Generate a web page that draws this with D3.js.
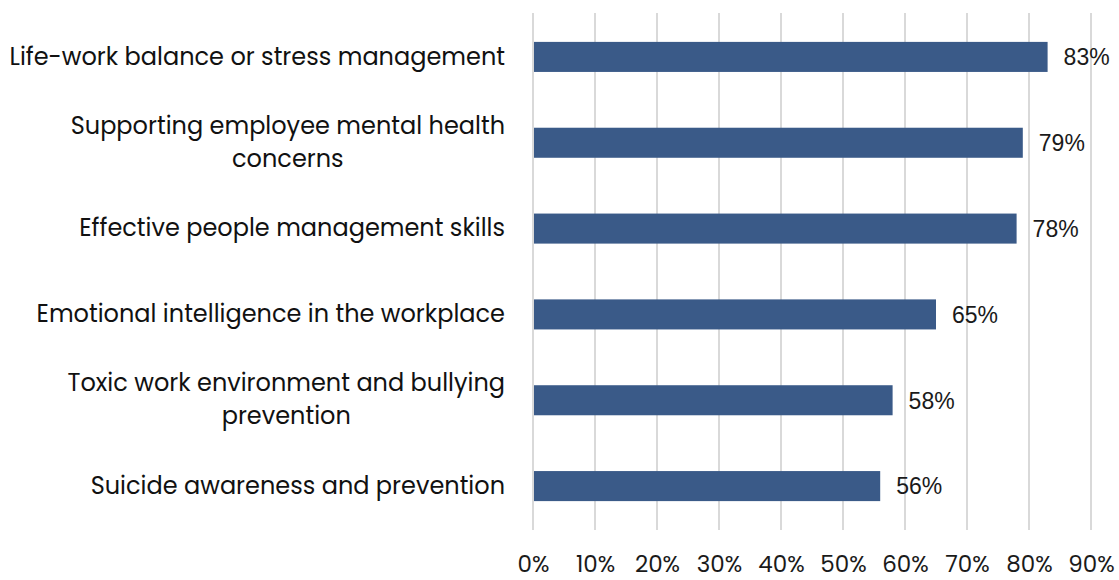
<!DOCTYPE html>
<html>
<head>
<meta charset="utf-8">
<script src="https://cdn.jsdelivr.net/npm/d3@7"></script>
<style>
  html, body { margin: 0; padding: 0; background: #ffffff; }
  svg { display: block; }
  text { font-family: "Poppins", "Noto Sans", "DejaVu Sans", sans-serif; }
</style>
</head>
<body>
<svg id="chart" width="1119" height="580"></svg>
<script>
// Training topics, each split into the lines it wraps onto
const categories = [
  ["Life-work balance or stress management"],
  ["Supporting employee mental health", "concerns"],
  ["Effective people management skills"],
  ["Emotional intelligence in the workplace"],
  ["Toxic work environment and bullying", "prevention"],
  ["Suicide awareness and prevention"]
];
const values = [83, 79, 78, 65, 58, 56];
const tickValues = [0, 10, 20, 30, 40, 50, 60, 70, 80, 90];

const svg = d3.select("#chart");
const margin = { left: 533, right: 28, top: 13, bottom: 50 };
const width = 1119, height = 580;
const fontMain = "\"Poppins\", \"Noto Sans\", \"DejaVu Sans\", sans-serif";

const keys = categories.map(c => c.join(" "));

const x = d3.scaleLinear()
  .domain([0, 90])
  .range([margin.left, width - margin.right]);

const y = d3.scaleBand()
  .domain(keys)
  .range([margin.top + 1, height - margin.bottom - 1])
  .paddingInner(0.65)
  .paddingOuter(0.325);

// vertical gridlines
svg.append("g")
  .selectAll("line")
  .data(tickValues)
  .join("line")
  .attr("x1", d => x(d)).attr("x2", d => x(d))
  .attr("y1", margin.top).attr("y2", height - margin.bottom)
  .attr("stroke", "#d9d9d9")
  .attr("stroke-width", 2);

// bars
svg.append("g")
  .selectAll("rect")
  .data(values)
  .join("rect")
  .attr("x", x(0) + 1)
  .attr("y", (d, i) => y(keys[i]))
  .attr("width", d => x(d) - x(0) - 1)
  .attr("height", y.bandwidth())
  .attr("fill", "#3a5a88");

// value labels
svg.append("g")
  .selectAll("text")
  .data(values)
  .join("text")
  .attr("x", d => x(d) + 16)
  .attr("y", (d, i) => y(keys[i]) + y.bandwidth() / 2)
  .attr("dy", "0.36em")
  .attr("font-size", 23)
  .attr("fill", "#1a1a1a")
  .style("font-family", "\"Liberation Sans\", Arial, sans-serif")
  .text(d => d + "%");

// category labels, wrapped lines centred on each other, block right-aligned
const labelRight = x(0) - 28;
const lineH = 33;
const lab = svg.append("g").attr("font-size", 24).attr("fill", "#111111");
categories.forEach((lines, i) => {
  const cy = y(keys[i]) + y.bandwidth() / 2;
  const t = lab.append("text");
  const spans = lines.map((ln, j) =>
    t.append("tspan")
      .attr("y", cy + (j - (lines.length - 1) / 2) * lineH - 1)
      .attr("dy", "0.36em")
      .text(ln));
  const widths = spans.map(s => s.node().getComputedTextLength());
  const maxW = d3.max(widths);
  spans.forEach(s => {
    s.attr("x", labelRight - maxW / 2).attr("text-anchor", "middle");
  });
});

// x axis tick labels
const axis = d3.axisBottom(x)
  .tickValues(tickValues)
  .tickFormat(d => d + "%")
  .tickSize(0)
  .tickPadding(0);
const ax = svg.append("g")
  .attr("transform", `translate(0, ${height - 16})`)
  .call(axis);
ax.select(".domain").remove();
ax.selectAll("text")
  .attr("font-size", 23)
  .attr("fill", "#1a1a1a")
  .attr("dy", "0.36em")
  .attr("y", 0)
  .style("font-family", fontMain);
</script>
</body>
</html>
